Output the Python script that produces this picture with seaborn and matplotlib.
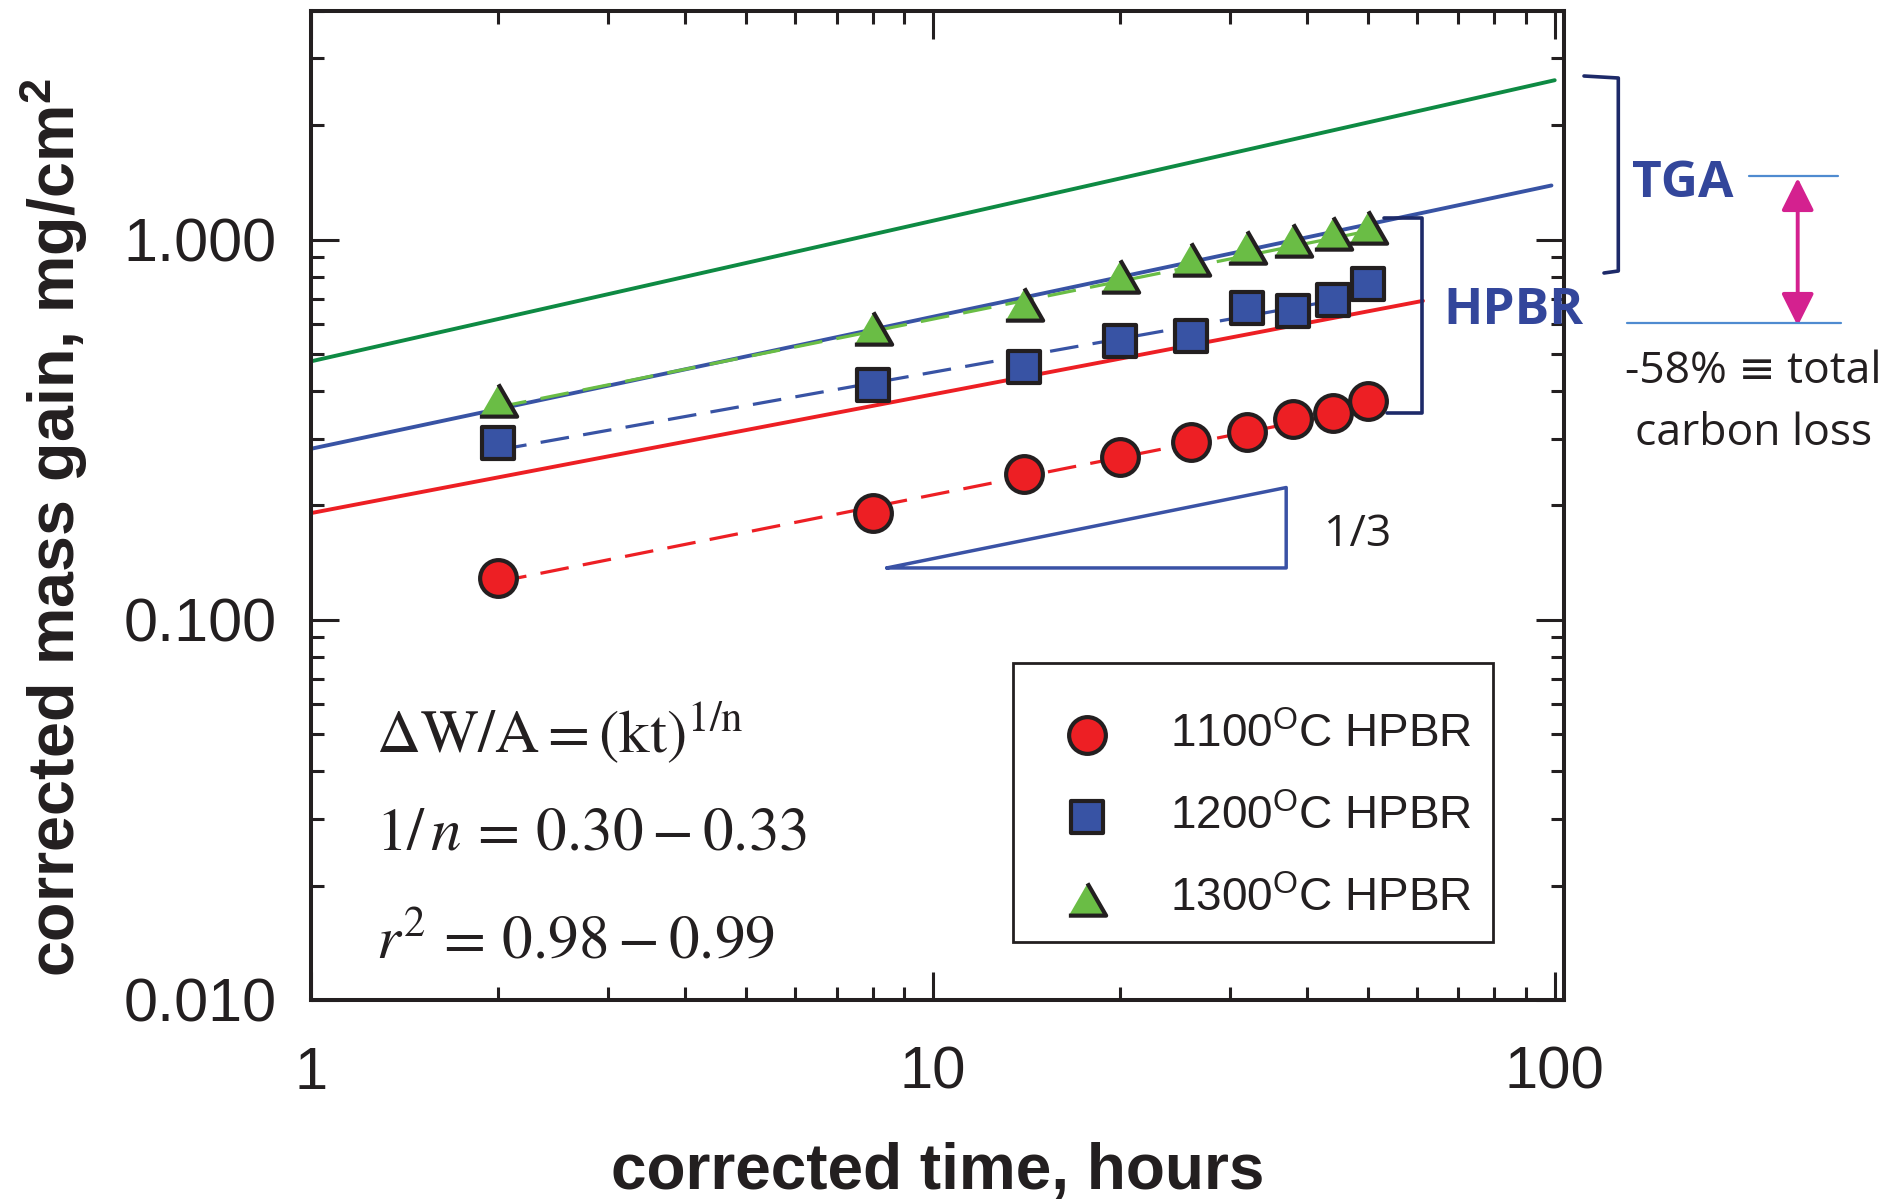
import matplotlib
matplotlib.use("Agg")
import matplotlib.pyplot as plt
import matplotlib.lines as mlines
import matplotlib.patches as mpatches
import matplotlib.transforms as mtransforms
from matplotlib.ticker import LogLocator, FuncFormatter, NullFormatter
import seaborn as sns

# --- oxidation data (corrected time in hours, mass gain in mg/cm^2) ---
time_h = [2, 8, 14, 20, 26, 32, 38, 44, 50]
gain_1100 = [0.129, 0.191, 0.242, 0.268, 0.293, 0.313, 0.337, 0.351, 0.377]
gain_1200 = [0.292, 0.415, 0.463, 0.542, 0.557, 0.661, 0.650, 0.694, 0.764]
gain_1300 = [0.380, 0.587, 0.676, 0.802, 0.888, 0.955, 0.996, 1.041, 1.081]

# power-law fits through the HPBR data (end points)
fit_t = [2, 50]
fit_1100 = [0.126, 0.361]
fit_1200 = [0.280, 0.718]
fit_1300 = [0.363, 1.054]

# TGA reference curves (end points)
tga_1300_t, tga_1300 = [1, 100], [0.479, 2.63]
tga_1200_t, tga_1200 = [1, 98.8], [0.282, 1.39]
tga_1100_t, tga_1100 = [1, 61.4], [0.191, 0.691]

# 1/3 slope guide
slope_t = [8.43, 37.0, 37.0, 8.43]
slope_v = [0.137, 0.223, 0.137, 0.137]

labels = [r"1100$^{\mathrm{O}}$C HPBR", r"1200$^{\mathrm{O}}$C HPBR", r"1300$^{\mathrm{O}}$C HPBR"]

INK = "#231f20"
RED = "#ed1f24"
BLUE = "#3853a4"
GREEN_FILL = "#6abd45"
GREEN_LINE = "#0e8a43"
NAVY = "#1d2a69"
LABEL_BLUE = "#33469b"
SKY = "#4f8bd0"
MAGENTA = "#d4218f"

sns.set_theme(style="ticks")
plt.rcParams.update({
    "font.family": ["Liberation Sans", "DejaVu Sans"],
    "mathtext.fontset": "custom",
    "mathtext.rm": "Liberation Sans",
    "mathtext.it": "Liberation Sans:italic",
    "mathtext.bf": "Liberation Sans:bold",
    "axes.linewidth": 2.9,
    "axes.edgecolor": INK,
    "xtick.color": INK,
    "ytick.color": INK,
    "text.color": INK,
    "axes.labelcolor": INK,
})

W, H = 1901, 1201
fig = plt.figure(figsize=(W / 100, H / 100), dpi=100)
ax = fig.add_axes([311 / W, 1 - 1000 / H, 1253 / W, 989 / H])
ax.set_xscale("log")
ax.set_yscale("log")
ax.set_xlim(1, 103.5)
ax.set_ylim(0.01, 4.0)

# pixel transform (origin top-left) for the notes around the plot
px = mtransforms.Affine2D().scale(1 / W, -1 / H).translate(0, 1) + fig.transFigure

# TGA solid curves
for t, v, c in [(tga_1300_t, tga_1300, GREEN_LINE),
                (tga_1200_t, tga_1200, BLUE),
                (tga_1100_t, tga_1100, RED)]:
    sns.lineplot(x=t, y=v, ax=ax, color=c, lw=2.8, estimator=None, sort=False,
                 legend=False, zorder=2)

# dashed power-law fits
for v, c in [(fit_1100, RED), (fit_1200, BLUE), (fit_1300, GREEN_FILL)]:
    sns.lineplot(x=fit_t, y=v, ax=ax, color=c, lw=2.3, estimator=None, sort=False,
                 legend=False, linestyle=(0, (9, 4.5)), zorder=2)

# slope triangle
sns.lineplot(x=slope_t, y=slope_v, ax=ax, color="#3a52a5", lw=2.5, estimator=None,
             sort=False, legend=False, zorder=2)

tri = [(-1, -0.866), (1, -0.866), (0, 0.866)]
sns.scatterplot(x=time_h, y=gain_1100, ax=ax, marker="o", s=700, color=RED,
                edgecolor=INK, linewidth=3.0, legend=False, zorder=4)
sns.scatterplot(x=time_h, y=gain_1200, ax=ax, marker="s", s=520, color=BLUE,
                edgecolor=INK, linewidth=3.0, legend=False, zorder=4)
sns.scatterplot(x=time_h, y=gain_1300, ax=ax, marker=tri, s=720, color=GREEN_FILL,
                edgecolor=INK, linewidth=3.0, legend=False, zorder=4)

# legend entries, with a separately drawn box around them
handles = list(ax.collections[-3:])
leg = ax.legend(handles, labels, loc="upper left", bbox_to_anchor=(0.5895, 0.2906),
                borderaxespad=0, fontsize=33, frameon=False, borderpad=0,
                labelspacing=0.83, handlelength=1.63, handletextpad=1.0)
fig.add_artist(mpatches.Rectangle((1013, 663), 480, 279, transform=px,
                                  fill=False, edgecolor=INK, lw=2.0))

# axes styling
ax.xaxis.set_major_locator(LogLocator(base=10))
ax.xaxis.set_minor_locator(LogLocator(base=10, subs=range(2, 10)))
ax.yaxis.set_major_locator(LogLocator(base=10))
ax.yaxis.set_minor_locator(LogLocator(base=10, subs=range(2, 10)))
ax.xaxis.set_major_formatter(FuncFormatter(lambda v, _: f"{v:g}"))
ax.yaxis.set_major_formatter(FuncFormatter(lambda v, _: f"{v:.3f}"))
ax.xaxis.set_minor_formatter(NullFormatter())
ax.yaxis.set_minor_formatter(NullFormatter())
ax.tick_params(which="major", direction="in", length=20, width=2.2,
               top=True, right=True)
ax.tick_params(which="minor", direction="in", length=9.5, width=2.2,
               top=True, right=True)
ax.tick_params(axis="x", which="major", labelsize=43, pad=33)
ax.tick_params(axis="y", which="major", labelsize=44, pad=25)
for s in ax.spines.values():
    s.set_visible(True)

ax.set_xlabel("corrected time, hours", fontsize=46, fontweight="bold")
ax.set_ylabel(r"corrected mass gain, mg/cm$^{\mathbf{2}}$", fontsize=46.5,
              fontweight="bold")
ax.xaxis.set_label_coords(0.5, -0.1436)
ax.yaxis.set_label_coords(-0.176, 0.4777)

# rate law text
for y, s in [(753, r"$\Delta\mathrm{W/A} = (\mathrm{kt})^{\mathrm{1/n}}$"),
             (849, r"$1/\,n\,=\,0.30-0.33$"),
             (958, r"$r^{2}\,=\,0.98-0.99$")]:
    fig.text(376, y, s, transform=px, fontsize=44, math_fontfamily="stix",
             ha="left", va="baseline")

sans = ["Open Sans", "DejaVu Sans"]
fig.text(1358, 546, "1/3", transform=px, fontsize=32, family=sans,
         ha="center", va="baseline")

# brackets for HPBR and TGA groups
fig.add_artist(mlines.Line2D([1384, 1421.7, 1421.7, 1387], [218, 218, 413, 413],
                             transform=px, color=NAVY, lw=2.6,
                             solid_joinstyle="round"))
fig.add_artist(mlines.Line2D([1584, 1618.3, 1618.3, 1604], [76, 78, 271, 273],
                             transform=px, color=NAVY, lw=2.6,
                             solid_joinstyle="round"))
fig.text(1683, 197, "TGA", transform=px, fontsize=37, family=sans,
         fontweight="bold", color=LABEL_BLUE, ha="center", va="baseline")
fig.text(1513, 324, "HPBR", transform=px, fontsize=37, family=sans,
         fontweight="bold", color=LABEL_BLUE, ha="center", va="baseline")

# difference marker between TGA and HPBR levels
fig.add_artist(mlines.Line2D([1749, 1838], [176, 176], transform=px,
                             color=SKY, lw=1.6))
fig.add_artist(mlines.Line2D([1627, 1841], [323, 323], transform=px,
                             color=SKY, lw=1.6))
fig.add_artist(mpatches.FancyArrowPatch(
    (1797.7, 178), (1797.7, 326), transform=px, color=MAGENTA, lw=2.8,
    arrowstyle="<|-|>,head_length=20,head_width=10", shrinkA=0, shrinkB=0))
fig.text(1753, 383, "-58% \u2261 total", transform=px, fontsize=32, family=sans,
         ha="center", va="baseline")
fig.text(1754, 445, "carbon loss", transform=px, fontsize=32, family=sans,
         ha="center", va="baseline")

fig.savefig("out.png", dpi=100, facecolor="white")
